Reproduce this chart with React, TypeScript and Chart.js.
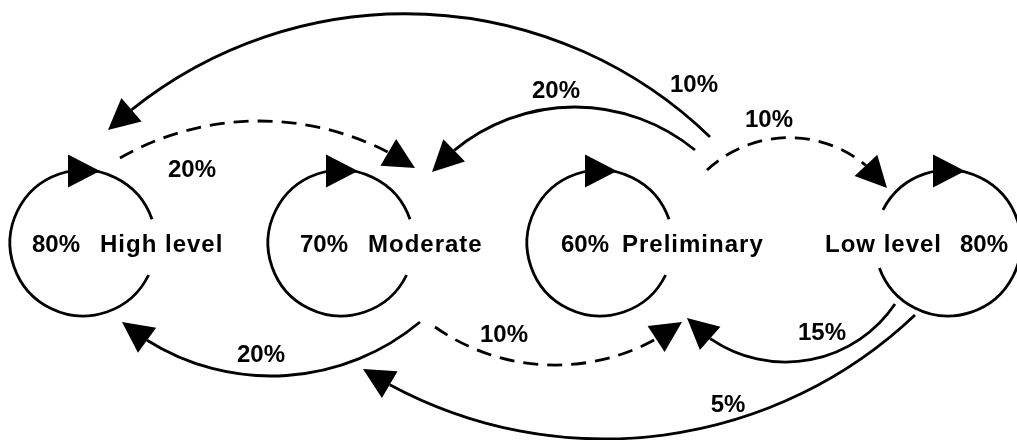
import React, { useEffect, useRef } from "react";
import { Chart, registerables } from "chart.js";
Chart.register(...registerables);

// ---- data ----
const states = ["High level", "Moderate", "Preliminary", "Low level"];
const stayLabels = ["80%", "70%", "60%", "80%"];
const transFrom = [2, 2, 0, 2, 1, 1, 3, 3];
const transTo = [0, 1, 1, 3, 0, 2, 2, 1];
const transLabels = ["10%", "20%", "20%", "10%", "20%", "10%", "15%", "5%"];
const transDashed = [false, false, true, true, false, true, false, false];

// ---- layout (data units) ----
const nodeX = [83, 341, 600, 948];
const nodeY = [243, 243, 243, 243];
const nodeRadius = 73;
const gapFrom = [-19, -19, -19, 160];
const gapTo = [26, 26, 26, 207];
const stayTextX = [32, 300, 561, 960];
const nameTextX = [100, 368, 622, 825];
const nodeTextY = 252;

const edgeStartX = [710, 695, 120, 707, 420, 435, 895, 915];
const edgeStartY = [137, 150, 158, 170, 322, 327, 304, 315];
const edgeViaX = [420, 573, 263, 780, 273, 560, 790, 575];
const edgeViaY = [14, 107, 121, 138, 376, 365, 362, 438];
const edgeEndX = [108, 432, 415, 887, 122, 682, 687, 363];
const edgeEndY = [130, 172, 168, 188, 322, 322, 318, 369];
const edgeLabelX = [694, 556, 192, 769, 261, 504, 822, 728];
const edgeLabelY = [92, 98, 177, 127, 362, 342, 340, 412];

const FONT = "bold 24px 'Liberation Sans', Arial, sans-serif";

function circleThrough(x1: number, y1: number, x2: number, y2: number, x3: number, y3: number) {
  const d = 2 * (x1 * (y2 - y3) + x2 * (y3 - y1) + x3 * (y1 - y2));
  const s1 = x1 * x1 + y1 * y1, s2 = x2 * x2 + y2 * y2, s3 = x3 * x3 + y3 * y3;
  const cx = (s1 * (y2 - y3) + s2 * (y3 - y1) + s3 * (y1 - y2)) / d;
  const cy = (s1 * (x3 - x2) + s2 * (x1 - x3) + s3 * (x2 - x1)) / d;
  return { cx, cy, r: Math.hypot(x1 - cx, y1 - cy) };
}
const TAU = Math.PI * 2;
const norm = (a: number) => ((a % TAU) + TAU) % TAU;

function triangle(ctx: CanvasRenderingContext2D, bx: number, by: number, tx: number, ty: number, hw: number) {
  const L = Math.hypot(tx - bx, ty - by);
  const ux = (tx - bx) / L, uy = (ty - by) / L;
  const pxv = -uy, pyv = ux;
  ctx.beginPath();
  ctx.moveTo(tx, ty);
  ctx.lineTo(bx + pxv * hw, by + pyv * hw);
  ctx.lineTo(bx - pxv * hw, by - pyv * hw);
  ctx.closePath();
  ctx.fill();
}

const diagramPlugin = {
  id: "stateDiagram",
  afterDatasetsDraw(chart: any) {
    const ctx: CanvasRenderingContext2D = chart.ctx;
    const sx = chart.scales.x, sy = chart.scales.y;
    const X = (v: number) => sx.getPixelForValue(v);
    const Y = (v: number) => sy.getPixelForValue(v);
    ctx.save();
    ctx.strokeStyle = "#000";
    ctx.fillStyle = "#000";
    ctx.lineWidth = 2.8;
    ctx.lineCap = "butt";

    // self loops
    states.forEach((_, i) => {
      const cx = X(nodeX[i]), cy = Y(nodeY[i]);
      const r = X(nodeX[i] + nodeRadius) - X(nodeX[i]);
      ctx.setLineDash([]);
      ctx.beginPath();
      ctx.arc(cx, cy, r, (gapTo[i] * Math.PI) / 180, ((gapFrom[i] + 360) * Math.PI) / 180, false);
      ctx.stroke();
      // arrow at top, clockwise
      triangle(ctx, cx - 15, cy - r + 1, cx + 17, cy - r + 1, 16.5);
    });

    // transitions
    transLabels.forEach((lab, k) => {
      const x1 = X(edgeStartX[k]), y1 = Y(edgeStartY[k]);
      const x2 = X(edgeViaX[k]), y2 = Y(edgeViaY[k]);
      const x3 = X(edgeEndX[k]), y3 = Y(edgeEndY[k]);
      const c = circleThrough(x1, y1, x2, y2, x3, y3);
      const a1 = Math.atan2(y1 - c.cy, x1 - c.cx);
      const a2 = Math.atan2(y2 - c.cy, x2 - c.cx);
      const a3 = Math.atan2(y3 - c.cy, x3 - c.cx);
      const d12 = norm(a2 - a1), d13 = norm(a3 - a1);
      const sign = d12 < d13 ? 1 : -1;
      const arrowLen = 31;
      const aBase = a3 - sign * (arrowLen / c.r);
      const bx = c.cx + c.r * Math.cos(aBase), by = c.cy + c.r * Math.sin(aBase);
      ctx.setLineDash(transDashed[k] ? [15, 9] : []);
      ctx.beginPath();
      ctx.arc(c.cx, c.cy, c.r, a1, aBase, sign < 0);
      ctx.stroke();
      ctx.setLineDash([]);
      triangle(ctx, bx, by, x3, y3, 15.5);
      // label
      ctx.font = FONT;
      (ctx as any).letterSpacing = "0px";
      ctx.textAlign = "center";
      ctx.textBaseline = "alphabetic";
      ctx.fillText(lab, X(edgeLabelX[k]), Y(edgeLabelY[k]));
      void transFrom[k];
      void transTo[k];
    });

    // node texts
    states.forEach((name, i) => {
      ctx.font = FONT;
      ctx.textAlign = "left";
      ctx.textBaseline = "alphabetic";
      (ctx as any).letterSpacing = "0px";
      ctx.fillText(stayLabels[i], X(stayTextX[i]), Y(nodeTextY));
      (ctx as any).letterSpacing = "1px";
      ctx.fillText(name, X(nameTextX[i]), Y(nodeTextY));
    });
    ctx.restore();
  },
};

export default function App() {
  const ref = useRef<HTMLCanvasElement>(null);
  useEffect(() => {
    if (!ref.current) return;
    const chart = new Chart(ref.current, {
      type: "scatter",
      data: {
        datasets: [
          {
            data: nodeX.map((x, i) => ({ x, y: nodeY[i] })),
            pointRadius: 0,
          },
        ],
      },
      options: {
        animation: false,
        responsive: false,
        devicePixelRatio: 1,
        layout: { padding: 0 },
        plugins: { legend: { display: false }, tooltip: { enabled: false } },
        scales: {
          x: { type: "linear", min: 0, max: 1017, display: false },
          y: { type: "linear", min: 0, max: 440, reverse: true, display: false },
        },
      },
      plugins: [diagramPlugin],
    } as any);
    return () => chart.destroy();
  }, []);
  return (
    <div style={{ position: "fixed", left: 0, top: 0, width: 1017, height: 440, background: "#fff" }}>
      <canvas ref={ref} width={1017} height={440} style={{ display: "block" }} />
    </div>
  );
}
